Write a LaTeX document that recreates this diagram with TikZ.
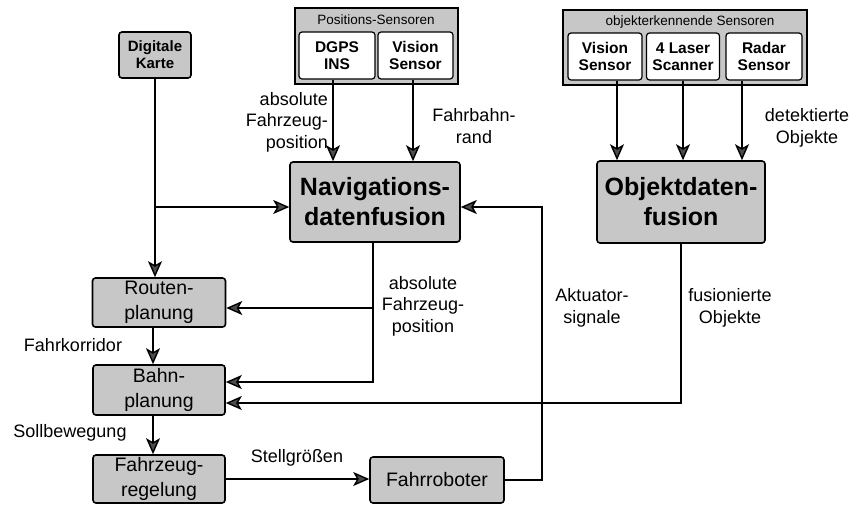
\documentclass[tikz,border=0pt]{standalone}
\usepackage{fontspec}
\setmainfont{Liberation Sans}
\usetikzlibrary{arrows.meta,calc}
\tikzset{
  box/.style={draw=black, line width=1.6pt, rounded corners=3pt, fill=black!22, inner sep=0pt, align=center},
  sbox/.style={draw=black, line width=1.2pt, rounded corners=3pt, fill=white, inner sep=0pt, align=center, font=\fontsize{15.5}{17}\selectfont\bfseries},
  grp/.style={draw=black, line width=1.2pt, fill=black!22, inner sep=0pt},
  big/.style={box, font=\fontsize{25}{30}\selectfont\bfseries},
  mid/.style={box, font=\fontsize{19.5}{25}\selectfont},
  lbl/.style={inner sep=0pt, align=center, font=\fontsize{18}{21.5}\selectfont},
  tiny/.style={inner sep=0pt, font=\fontsize{13.5}{15}\selectfont},
  arr/.style={line width=1.4pt, -{Stealth[length=16pt,width=14pt,inset=4pt,fill=black!70]}},
  ln/.style={line width=1.4pt}
}
\begin{document}
\begin{tikzpicture}[x=1pt,y=-1pt]
\useasboundingbox (0,0) rectangle (851,507);
% sensor groups
\node[grp, minimum width=163pt, minimum height=76pt] (psens) at (376.5,46) {};
\node[tiny] (pst) at (376,20) {Positions-Sensoren};
\node[sbox, minimum width=76pt, minimum height=47pt] (dgps) at (337,55.5) {DGPS\\INS};
\node[sbox, minimum width=75pt, minimum height=47pt] (vis1) at (415.5,55.5) {Vision\\Sensor};
\node[grp, minimum width=244pt, minimum height=75pt] (osens) at (685,47.5) {};
\node[tiny] (ost) at (690,22) {objekterkennende Sensoren};
\node[sbox, minimum width=74pt, minimum height=47pt] (vis2) at (605,56.5) {Vision\\Sensor};
\node[sbox, minimum width=73pt, minimum height=47pt] (laser) at (683,56.5) {4 Laser\\Scanner};
\node[sbox, minimum width=76pt, minimum height=47pt] (radar) at (764,56.5) {Radar\\Sensor};
% main boxes
\node[box, minimum width=72pt, minimum height=46pt, font=\fontsize{15}{17}\selectfont\bfseries] (karte) at (155,55) {Digitale\\Karte};
\node[big, minimum width=170pt, minimum height=80pt] (nav) at (375,202) {Navigations-\\datenfusion};
\node[big, minimum width=168pt, minimum height=82pt] (obj) at (681,202) {Objektdaten-\\fusion};
\node[mid, minimum width=133pt, minimum height=49pt] (routen) at (159,302.5) {Routen-\\planung};
\node[mid, minimum width=132pt, minimum height=50pt] (bahn) at (159,390) {Bahn-\\planung};
\node[mid, minimum width=132pt, minimum height=48pt] (regel) at (159,479) {Fahrzeug-\\regelung};
\node[mid, minimum width=134pt, minimum height=46pt] (robot) at (437,480) {Fahrroboter};
% connectors
\draw[arr] ([xshift=-4pt]dgps.south) -- ([xshift=-4pt]dgps.south |- nav.north);
\draw[arr] ([xshift=-2.5pt]vis1.south) -- ([xshift=-2.5pt]vis1.south |- nav.north);
\draw[arr] ([xshift=12pt]vis2.south) -- ([xshift=12pt]vis2.south |- obj.north);
\draw[arr] (laser.south) -- (laser.south |- obj.north);
\draw[arr] ([xshift=-22pt]radar.south) -- ([xshift=-22pt]radar.south |- obj.north);
\draw[arr] (karte.south) -- (karte.south |- routen.north);
\coordinate (kb) at (karte.south |- {$(nav.west)+(0,5)$});
\draw[arr] (kb) -- ([yshift=-5pt]nav.west);
\draw[arr] ([xshift=-6pt]routen.south) -- ([xshift=-6pt]bahn.north);
\draw[arr] ([xshift=-6pt]bahn.south) -- ([xshift=-6pt]regel.north);
\coordinate (nb) at ([xshift=-2pt]nav.south |- {$(bahn.east)+(0,-8)$});
\draw[arr] ([xshift=-2pt]nav.south) -- (nb) -- ([yshift=8pt]bahn.east);
\coordinate (nr) at ([xshift=-2pt]nav.south |- {$(routen.east)+(0,5.5)$});
\draw[arr] (nr) -- ([yshift=-5.5pt]routen.east);
\coordinate (ob) at (obj.south |- {$(bahn.east)+(0,13)$});
\draw[arr] (obj.south) -- (ob) -- ([yshift=-13pt]bahn.east);
\draw[arr] (regel.east) -- (regel.east -| robot.west);
\coordinate (fb) at (542,480);
\draw[arr] (robot.east) -- (fb) |- ([yshift=-5pt]nav.east);
% labels
\node[lbl, align=right, anchor=east] (l1) at (328,122) {absolute\\Fahrzeug-\\position};
\node[lbl] (l2) at (474,126) {Fahrbahn-\\rand};
\node[lbl] (l3) at (807,128) {detektierte\\Objekte};
\node[lbl] (l4) at (423,306) {absolute\\Fahrzeug-\\position};
\node[lbl] (l5) at (592,308) {Aktuator-\\signale};
\node[lbl] (l6) at (730,308) {fusionierte\\Objekte};
\node[lbl] (l7) at (73,345) {Fahrkorridor};
\node[lbl] (l8) at (70,433) {Sollbewegung};
\node[lbl] (l9) at (297,458) {Stellgrößen};
\end{tikzpicture}
\end{document}
